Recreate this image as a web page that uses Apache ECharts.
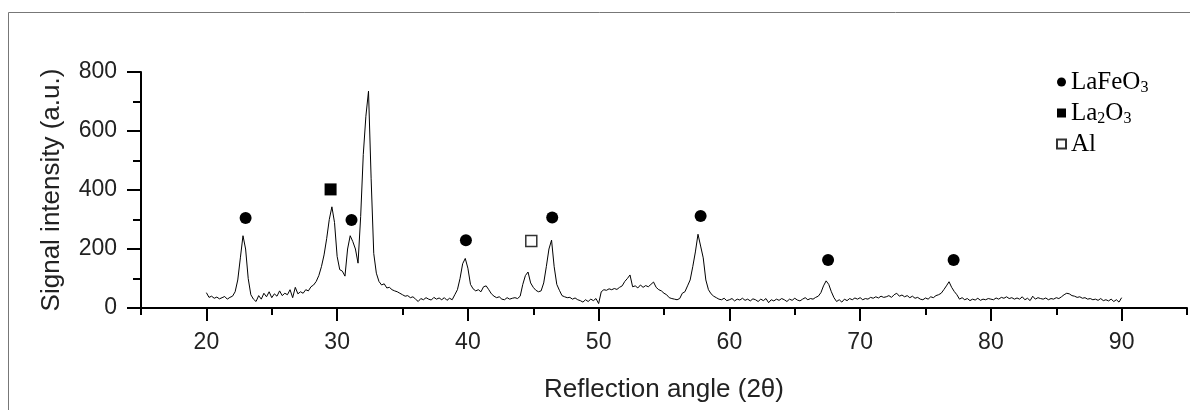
<!DOCTYPE html>
<html>
<head>
<meta charset="utf-8">
<script src="https://cdn.jsdelivr.net/npm/echarts@6/dist/echarts.min.js"></script>
<style>
html,body{margin:0;padding:0;background:#fff;}
#chart{width:1190px;height:410px;}
</style>
</head>
<body>
<div id="chart"></div>
<script>
// Scan: 2θ from 20 to 90 in steps of 0.2°
const scanStart = 20;
const scanStep = 0.2;
const intensity = [
  52, 36, 40, 33, 37, 31, 35, 39, 30, 36,        // 20.0 - 21.8
  40, 55, 95, 170, 245, 200, 100, 45, 30, 22,    // 22.0 - 23.8
  42, 30, 50, 38, 55, 35, 48, 40, 58, 42,        // 24.0 - 25.8
  50, 45, 62, 35, 70, 48, 55, 50, 62, 58,        // 26.0 - 27.8
  72, 78, 90, 110, 140, 180, 235, 300, 343, 290, // 28.0 - 29.8
  175, 130, 125, 108, 200, 245, 225, 200, 152, 310, // 30.0 - 31.8
  520, 650, 735, 440, 185, 118, 90, 78, 82, 68,  // 32.0 - 33.8
  70, 62, 58, 55, 50, 45, 40, 42, 35, 38,        // 34.0 - 35.8
  30, 22, 32, 28, 35, 30, 27, 36, 30, 34,        // 36.0 - 37.8
  28, 35, 26, 33, 28, 45, 62, 100, 150, 168,     // 38.0 - 39.8
  135, 80, 65, 58, 62, 55, 72, 75, 62, 48,       // 40.0 - 41.8
  40, 35, 38, 30, 28, 35, 30, 33, 35, 32,        // 42.0 - 43.8
  40, 80, 110, 122, 85, 70, 60, 55, 58, 85,      // 44.0 - 45.8
  140, 200, 230, 140, 80, 60, 42, 38, 35, 36,    // 46.0 - 47.8
  30, 34, 28, 25, 20, 28, 22, 30, 25, 32,        // 48.0 - 49.8
  15, 55, 62, 60, 65, 62, 66, 63, 70, 75,        // 50.0 - 51.8
  90, 100, 112, 72, 75, 68, 78, 70, 76, 72,      // 52.0 - 53.8
  80, 88, 70, 62, 58, 50, 45, 35, 32, 30,        // 54.0 - 55.8
  28, 32, 50, 55, 75, 95, 140, 190, 250, 210,    // 56.0 - 57.8
  170, 95, 62, 48, 40, 35, 30, 28, 33, 25,       // 58.0 - 59.8
  28, 32, 24, 30, 27, 33, 26, 30, 24, 31,        // 60.0 - 61.8
  28, 22, 30, 25, 32, 18, 28, 24, 30, 26,        // 62.0 - 63.8
  32, 28, 22, 30, 26, 33, 27, 24, 30, 35,        // 64.0 - 65.8
  28, 32, 30, 36, 40, 52, 75, 92, 80, 55,        // 66.0 - 67.8
  35, 22, 28, 20, 30, 25, 32, 28, 34, 30,        // 68.0 - 69.8
  35, 28, 32, 30, 36, 33, 38, 34, 40, 36,        // 70.0 - 71.8
  38, 42, 36, 45, 50, 40, 44, 38, 42, 35,        // 72.0 - 73.8
  40, 33, 36, 30, 28, 34, 30, 38, 35, 42,        // 74.0 - 75.8
  45, 50, 62, 75, 89, 70, 56, 45, 30, 35,        // 76.0 - 77.8
  28, 32, 25, 30, 27, 33, 26, 30, 28, 32,        // 78.0 - 79.8
  30, 28, 34, 30, 36, 33, 38, 32, 35, 30,        // 80.0 - 81.8
  34, 30, 38, 28, 33, 25, 40, 30, 35, 32,        // 82.0 - 83.8
  30, 34, 28, 32, 30, 35, 32, 38, 45, 50,        // 84.0 - 85.8
  48, 42, 40, 36, 38, 33, 35, 30, 32, 28,        // 86.0 - 87.8
  30, 26, 32, 25, 28, 24, 30, 22, 28, 20,        // 88.0 - 89.8
  35                                             // 90.0
];

// Phase markers (position in 2θ, height in a.u.)
const lafeo3Angles = [23.0, 31.1, 31.95, 39.85, 46.45, 57.8, 67.55, 77.15];
const lafeo3Heights = [305, 298, 807, 230, 307, 312, 163, 163];
const la2o3Angles = [29.5];
const la2o3Heights = [402];
const alAngles = [44.85];
const alHeights = [227];

// Axis ticks
const xMajorTicks = [20, 30, 40, 50, 60, 70, 80, 90];
const yTicks = [0, 200, 400, 600, 800];

const scanData = intensity.map((v, i) => [+(scanStart + i * scanStep).toFixed(2), v]);
const zip = (a, b) => a.map((x, i) => [x, b[i]]);

const AX = '#000';
const sans = 'Liberation Sans, Arial, sans-serif';
const serif = 'Liberation Serif, Times New Roman, serif';

const chart = echarts.init(document.getElementById('chart'), null, {renderer: 'canvas'});
chart.setOption({
  animation: false,
  backgroundColor: '#fff',
  graphic: [{
    type: 'rect', z: -10, silent: true,
    shape: {x: 8.5, y: 12.5, width: 1300, height: 600},
    style: {fill: 'none', stroke: '#777', lineWidth: 1}
  }],
  grid: {left: 141, top: 72, right: 3, bottom: 102, containLabel: false},
  legend: {
    orient: 'vertical',
    left: 1056, top: 68, padding: 0,
    itemWidth: 9, itemHeight: 9,
    itemGap: 3,
    data: ['LaFeO3', 'La2O3', 'Al'],
    formatter: n => ({'LaFeO3': 'LaFeO{sub|3}', 'La2O3': 'La{sub|2}O{sub|3}', 'Al': 'Al'})[n],
    textStyle: {
      fontFamily: serif, fontSize: 25, color: '#000', lineHeight: 28,
      rich: {sub: {fontFamily: serif, fontSize: 16, lineHeight: 14, verticalAlign: 'bottom', color: '#000'}}
    }
  },
  xAxis: [{
    type: 'value', min: 15, max: 95, interval: 5,
    name: 'Reflection angle (2θ)', nameLocation: 'middle', nameGap: 69,
    nameTextStyle: {fontFamily: sans, fontSize: 26, color: '#222'},
    axisLine: {show: true, onZero: false, lineStyle: {color: AX, width: 2}},
    axisTick: {show: true, length: 7, lineStyle: {color: AX, width: 2}},
    axisLabel: {
      margin: 23, fontFamily: sans, fontSize: 23, color: '#222',
      formatter: v => (xMajorTicks.indexOf(v) >= 0 ? String(v) : '')
    },
    splitLine: {show: false}
  }, {
    type: 'value', min: 15, max: 95, position: 'bottom', offset: 0,
    axisLine: {show: false},
    axisTick: {show: true, length: 13, customValues: xMajorTicks, lineStyle: {color: AX, width: 2}},
    axisLabel: {show: false},
    splitLine: {show: false}
  }],
  yAxis: {
    type: 'value', min: 0, max: 800, interval: 200,
    name: 'Signal intensity (a.u.)', nameLocation: 'middle', nameGap: 76,
    nameTextStyle: {fontFamily: sans, fontSize: 26, color: '#222'},
    axisLine: {show: true, lineStyle: {color: AX, width: 2}},
    axisTick: {show: true, length: 14, lineStyle: {color: AX, width: 2}},
    minorTick: {show: true, splitNumber: 2, length: 8, lineStyle: {color: AX, width: 2}},
    axisLabel: {margin: 24, fontFamily: sans, fontSize: 23, color: '#222',
      formatter: v => (yTicks.indexOf(v) >= 0 ? String(v) : '')},
    splitLine: {show: false}
  },
  series: [{
    name: 'scan', type: 'line', data: scanData, showSymbol: false, symbol: 'none',
    lineStyle: {color: '#000', width: 1}, z: 2
  }, {
    name: 'LaFeO3', type: 'scatter', data: zip(lafeo3Angles, lafeo3Heights),
    symbol: 'circle', symbolSize: 12, itemStyle: {color: '#000', opacity: 1}, z: 3
  }, {
    name: 'La2O3', type: 'scatter', data: zip(la2o3Angles, la2o3Heights),
    symbol: 'rect', symbolSize: 12, itemStyle: {color: '#000', opacity: 1}, z: 3
  }, {
    name: 'Al', type: 'scatter', data: zip(alAngles, alHeights),
    symbol: 'rect', symbolSize: 11, itemStyle: {color: '#fff', borderColor: '#333', borderWidth: 1.5, opacity: 1}, z: 3
  }]
});
</script>
</body>
</html>
